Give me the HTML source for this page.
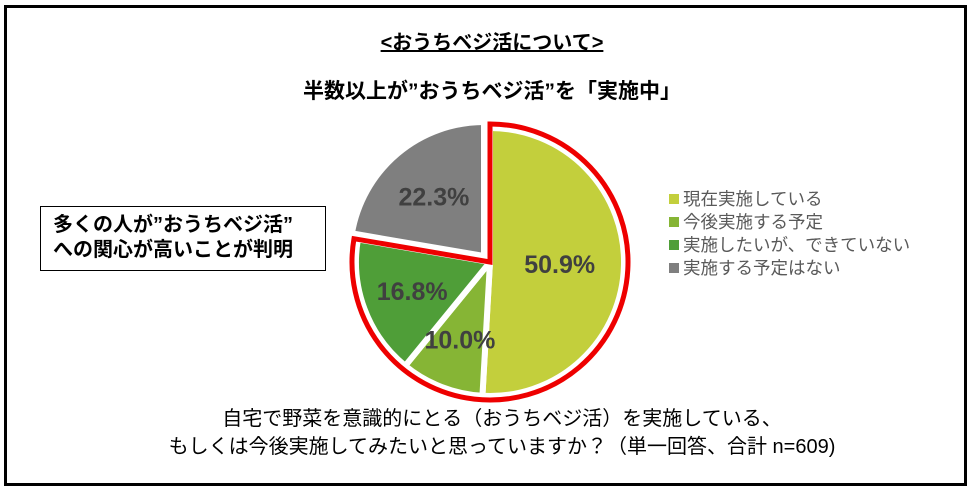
<!DOCTYPE html>
<html><head><meta charset="utf-8">
<style>
body{margin:0;background:#fff;}
#root{position:relative;width:970px;height:486px;overflow:hidden;font-family:"Liberation Sans","Noto Sans CJK JP",sans-serif;}
.frame{position:absolute;left:4px;top:5px;width:957px;height:475px;border:3px solid #000;box-sizing:content-box;}
.t{position:absolute;white-space:nowrap;color:#000;}
</style></head><body>
<div id="root">
<div class="frame"></div>
<div class="t" style="left:0;width:984px;text-align:center;top:26px;font-size:20px;font-weight:bold;text-decoration:underline;">&lt;おうちベジ活について&gt;</div>
<div class="t" style="left:0;width:984px;text-align:center;top:75px;font-size:21px;font-weight:bold;">半数以上が”おうちベジ活”を「実施中」</div>
<div style="position:absolute;left:40px;top:206px;width:286px;height:65px;border:1px solid #000;box-sizing:border-box;">
<div class="t" style="left:12px;top:6px;font-size:20px;font-weight:bold;line-height:25px;">多くの人が”おうちベジ活”<br>への関心が高いことが判明</div>
</div>
<svg id="pie" width="970" height="486" style="position:absolute;left:0;top:0;"></svg>
<div class="t" style="left:0;width:1004px;text-align:center;top:405px;font-size:20px;line-height:28px;">自宅で野菜を意識的にとる（おうちベジ活）を実施している、<br>もしくは今後実施してみたいと思っていますか？（単一回答、合計 n=609)</div>
</div>
<script>
const categories=["現在実施している","今後実施する予定","実施したいが、できていない","実施する予定はない"];
const values=[50.9,10.0,16.8,22.3];
const labels=["50.9%","10.0%","16.8%","22.3%"];
const colors=["#c3cf3c","#86b535","#4f9e38","#7f7f7f"];
const NS="http://www.w3.org/2000/svg";
const svg=document.getElementById('pie');
const cx=490,cy=262,R=134;
const total=values.reduce((a,b)=>a+b,0);
function pt(a,r,ox,oy){return [cx+ox+r*Math.sin(a),cy+oy-r*Math.cos(a)];}
let a0=0;const angles=[];
values.forEach(v=>{const a1=a0+v/total*2*Math.PI;angles.push([a0,a1]);a0=a1;});
values.forEach((v,i)=>{
  const [s,e]=angles[i];
  const ox=i==3?-6:0, oy=i==3?-6:0;
  const p1=pt(s,R,ox,oy),p2=pt(e,R,ox,oy);
  const large=(e-s)>Math.PI?1:0;
  const p=document.createElementNS(NS,'path');
  p.setAttribute('d',`M${cx+ox},${cy+oy}L${p1[0]},${p1[1]}A${R},${R} 0 ${large} 1 ${p2[0]},${p2[1]}Z`);
  p.setAttribute('fill',colors[i]);p.setAttribute('stroke','#fff');p.setAttribute('stroke-width','6');p.setAttribute('stroke-linejoin','round');
  
  
  svg.appendChild(p);
});
{
  const s=angles[0][0],e=angles[2][1],r=R+4;
  const p1=pt(s,r,0,0),p2=pt(e,r,0,0);
  const large=(e-s)>Math.PI?1:0;
  const p=document.createElementNS(NS,'path');
  p.setAttribute('d',`M${cx},${cy}L${p1[0]},${p1[1]}A${r},${r} 0 ${large} 1 ${p2[0]},${p2[1]}Z`);
  p.setAttribute('fill','none');p.setAttribute('stroke','#ee0000');p.setAttribute('stroke-width','5');p.setAttribute('stroke-linejoin','miter');
  
  
  svg.appendChild(p);
}
const lr=[0.52,0.62,0.62,0.58];
values.forEach((v,i)=>{
  const [s,e]=angles[i];const m=(s+e)/2;
  const ox=i==3?-6:0, oy=i==3?-6:0;
  const q=pt(m,R*lr[i],ox,oy);
  const t=document.createElementNS(NS,'text');
  t.setAttribute('x',q[0]);t.setAttribute('y',q[1]+9);t.setAttribute('text-anchor','middle');
  t.setAttribute('font-size','25');t.setAttribute('font-weight','bold');t.setAttribute('fill','#404040');
  t.setAttribute('font-family','"Liberation Sans",sans-serif');
  t.textContent=labels[i];
  
  
  svg.appendChild(t);
});
categories.forEach((c,i)=>{
  const y=199+i*23;
  const r=document.createElementNS(NS,'rect');
  r.setAttribute('x',669);r.setAttribute('y',y-5);r.setAttribute('width',10);r.setAttribute('height',10);r.setAttribute('fill',colors[i]);
  
  
  svg.appendChild(r);
  const t=document.createElementNS(NS,'text');
  t.setAttribute('x',683);t.setAttribute('y',y+6);t.setAttribute('font-size','17.5');t.setAttribute('fill','#595959');
  t.setAttribute('font-family','"Liberation Sans","Noto Sans CJK JP",sans-serif');
  t.textContent=c;
  
  
  svg.appendChild(t);
});
</script>
</body></html>
